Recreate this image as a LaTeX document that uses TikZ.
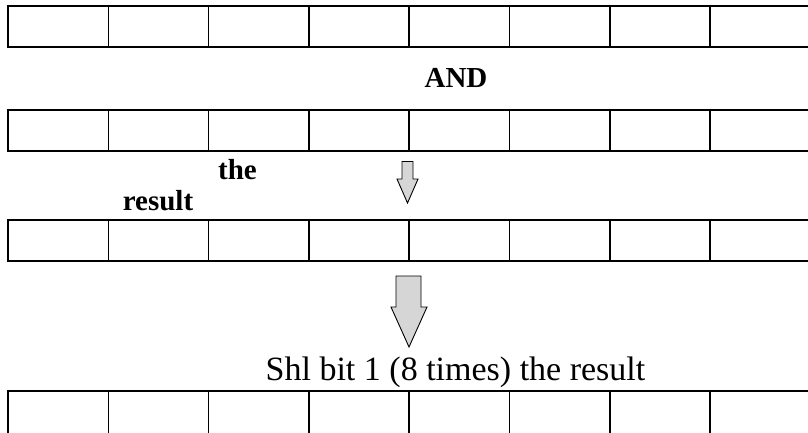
\documentclass[tikz,border=0pt]{standalone}
\usepackage{fontspec}
\setmainfont{Liberation Serif}
\begin{document}
\begin{tikzpicture}[x=1pt,y=-1pt,
  cell/.style={draw=black,line width=1.5pt,minimum width=100.3pt,minimum height=41pt,inner sep=0pt,outer sep=0pt,anchor=north west},
  boldlbl/.style={font=\fontsize{29}{29}\selectfont\bfseries,inner sep=0pt,anchor=base},
  plainlbl/.style={font=\fontsize{34}{34}\selectfont,inner sep=0pt,anchor=base},
  blockarrow/.style={draw=black,line width=0.9pt,fill=black!16,line join=miter}]
\useasboundingbox (0,0) rectangle (808,432);
\clip (0,0) rectangle (808,432);
\fill[white] (0,0) rectangle (808,432);
% rows of cells
\foreach \r/\y/\h in {1/6/41,2/110/41,3/220/41,4/391/60}{
  \foreach \c in {1,...,8}{
    \node[cell,minimum height=\h pt] (r\r c\c) at ({8+100.3*(\c-1)},\y) {};
  }
}
% labels
\node[boldlbl] (andlbl) at (456,87) {AND};
\node[boldlbl] (thelbl) at (237.5,179) {the};
\node[boldlbl] (resultlbl) at (158,210) {result};
\node[plainlbl] (shllbl) at (455.5,380) {Shl bit 1 (8 times) the result};
% small arrow
\draw[blockarrow] (402,161.5) -- (413,161.5) -- (413,179) -- (418,179) -- (407.5,203) -- (397,179) -- (402,179) -- cycle;
% big arrow
\draw[blockarrow] (396,276) -- (421,276) -- (421,307) -- (427,307) -- (409,347) -- (391,307) -- (396,307) -- cycle;
\end{tikzpicture}
\end{document}
